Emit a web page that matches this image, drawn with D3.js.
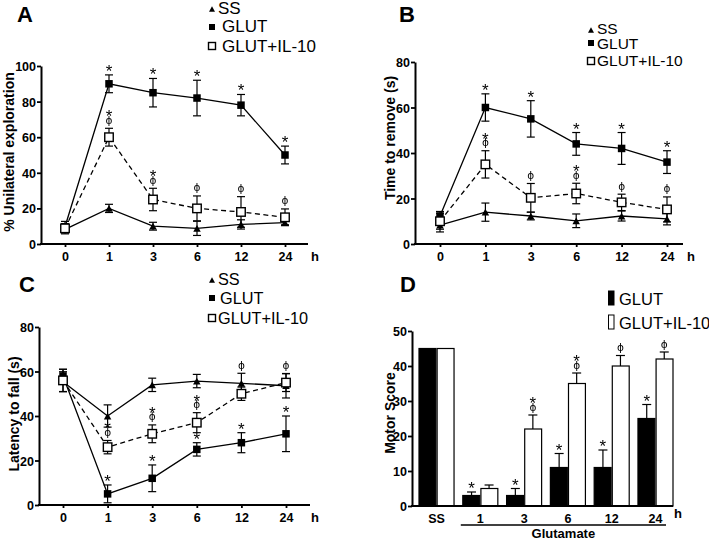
<!DOCTYPE html>
<html><head><meta charset="utf-8">
<script src="https://cdnjs.cloudflare.com/ajax/libs/d3/7.8.5/d3.min.js"></script>
<style>body{margin:0;background:#fff}svg{display:block}</style>
</head><body>
<script>
// ---------- DATA ----------
const hours = ["0", "1", "3", "6", "12", "24"];
const seriesNames = ["SS", "GLUT", "GLUT+IL-10"];

// Panel A: % Unilateral exploration
const aTicks = [0, 20, 40, 60, 80, 100];
const aSS = [8.2, 20, 10, 8.8, 11, 12];
const aSSerr = [2.5, 2.3, 2.2, 4, 2.6, 1.2];
const aGLUT = [9.7, 90, 85, 82, 78, 50];
const aGLUTerr = [3, 5, 8, 10, 6, 5];
const aIL = [8.8, 60, 25, 20, 18, 15];
const aILerr = [2.5, 5, 6.3, 7, 8.6, 4.7];
const aGLUTsig = ["", "*", "*", "*", "*", "*"];
const aILsig = ["", "*ϕ", "*ϕ", "ϕ", "ϕ", "ϕ"];
const aILsigOver = ["IL", "IL", "IL", "IL", "IL", "IL"];

// Panel B: Time to remove (s)
const bTicks = [0, 20, 40, 60, 80];
const bSS = [8.3, 14, 12.3, 10.2, 12.3, 11];
const bSSerr = [3, 4, 1.7, 3, 2.2, 2.6];
const bGLUT = [12.3, 60, 55, 44, 42, 36];
const bGLUTerr = [2, 6, 8, 5, 7, 5];
const bIL = [10, 35, 20.3, 22.2, 18.3, 15.2];
const bILerr = [3.5, 6, 6.3, 4.5, 3.6, 5.5];
const bGLUTsig = ["", "*", "*", "*", "*", "*"];
const bILsig = ["", "*ϕ", "ϕ", "*ϕ", "ϕ", "ϕ"];
const bILsigOver = ["IL", "IL", "IL", "IL", "IL", "IL"];

// Panel C: Latency to fall (s)
const cTicks = [0, 20, 40, 60, 80];
const cSS = [55.4, 40, 54, 55.7, 54.7, 53.6];
const cSSerr = [4.5, 5, 3, 3, 4.5, 5.5];
const cGLUT = [58, 5, 12, 25, 28, 32];
const cGLUTerr = [3, 4, 6, 3, 4.5, 8];
const cIL = [56, 26, 32, 37, 50, 55];
const cILerr = [5, 3, 4, 4.5, 3, 4];
const cGLUTsig = ["", "*", "*", "*", "*", "*"];
const cILsig = ["", "*ϕ", "*ϕ", "*ϕ", "ϕ", "ϕ"];
const cILsigOver = ["IL", "IL", "IL", "IL", "SS", "SS"];

// Panel D: Motor Score
const dGroups = ["SS", "1", "3", "6", "12", "24"];
const dTicks = [0, 10, 20, 30, 40, 50];
const dGLUT = [45, 3, 3, 11, 11, 25];
const dGLUTerr = [0, 1, 2, 4, 5, 4];
const dIL = [45, 5, 22, 35, 40, 42];
const dILerr = [0, 1, 4, 3, 3, 2];
const dGLUTsig = ["", "*", "*", "*", "*", "*"];
const dILsig = ["", "", "*ϕ", "*ϕ", "ϕ", "ϕ"];

// ---------- DRAWING ----------
const FONT = "Arial, 'Liberation Sans', Helvetica, sans-serif";
const svg = d3.select("body").append("svg").attr("width", 709).attr("height", 539)
  .style("font-family", FONT);
svg.append("defs").append("filter").attr("id", "gray")
  .attr("x", "-50%").attr("y", "-50%").attr("width", "200%").attr("height", "200%")
  .append("feColorMatrix").attr("type", "saturate").attr("values", 0);

function styleAxis(g, size) {
  g.selectAll("text").style("font-family", FONT).style("font-weight", "bold")
    .style("font-size", size + "px").attr("fill", "#000");
  g.selectAll("line").attr("stroke", "#000").attr("stroke-width", 1.8);
  g.selectAll("path.domain").attr("stroke", "#000").attr("stroke-width", 2);
}

function drawSig(g, xc, yTop, txt) {
  // one text element; characters stacked, the last one nearest the error bar top
  const chars = Array.from(txt);
  const t = g.append("text").attr("text-anchor", "middle").attr("fill", "#000")
    .attr("filter", "url(#gray)");
  let c = yTop - 8;
  const parts = [];
  for (let i = chars.length - 1; i >= 0; i--) {
    const ch = chars[i];
    if (ch === "*") { parts.unshift({ ch, y: c + 10, star: true }); c -= 9; }
    else { parts.unshift({ ch, y: c + 3.5, star: false }); c -= 8; }
  }
  parts.forEach(p => {
    const ts = t.append("tspan").attr("x", xc).attr("y", p.y).text(p.ch);
    if (p.star) ts.style("font-size", "17px").style("font-family", FONT);
    else ts.style("font-size", "10.5px").style("font-family", "'DejaVu Sans', serif");
  });
}

function marker(g, type, cx, cy, s) {
  if (type === "tri") {
    const h = s * 0.9;
    g.append("path").attr("d", `M${cx - s / 2},${cy + h / 2}L${cx + s / 2},${cy + h / 2}L${cx},${cy - h / 2}Z`)
      .attr("fill", "#000");
  } else if (type === "sq") {
    g.append("rect").attr("x", cx - s / 2).attr("y", cy - s / 2).attr("width", s).attr("height", s)
      .attr("fill", "#000");
  } else {
    g.append("rect").attr("x", cx - s / 2).attr("y", cy - s / 2).attr("width", s).attr("height", s)
      .attr("fill", "#fff").attr("stroke", "#000").attr("stroke-width", 1.4);
  }
}

function linePanel(cfg) {
  const g = svg.append("g");
  const x = d3.scalePoint().domain(hours).range(cfg.xr);
  const y = d3.scaleLinear().domain([0, cfg.ymax]).range(cfg.yr);

  const ya = g.append("g").attr("transform", `translate(${cfg.axisX},0)`)
    .call(d3.axisLeft(y).tickValues(cfg.ticks).tickSize(4).tickSizeOuter(0).tickPadding(1));
  styleAxis(ya, 12.5);
  ya.selectAll("text").attr("dy", "0.36em");
  const xa = g.append("g").attr("transform", `translate(0,${cfg.yr[0]})`)
    .call(d3.axisBottom(x).tickSize(3).tickPadding(0));
  xa.select("path.domain").remove();
  styleAxis(xa, 12.5);
  xa.selectAll("text").attr("y", cfg.labelY - cfg.yr[0]).attr("dy", 0);
  g.append("line").attr("x1", cfg.axisX - 1).attr("x2", cfg.xEnd)
    .attr("y1", cfg.yr[0]).attr("y2", cfg.yr[0]).attr("stroke", "#000").attr("stroke-width", 2.2);
  g.append("text").attr("x", cfg.hX).attr("y", cfg.labelY).attr("text-anchor", "middle")
    .style("font-weight", "bold").style("font-size", "13px").text("h");

  g.append("text").attr("transform", `translate(${cfg.ylabX},${cfg.ylabY}) rotate(-90)`)
    .attr("text-anchor", "middle").style("font-weight", "bold").style("font-size", "14px")
    .text(cfg.ylabel);
  g.append("text").attr("x", cfg.letterX).attr("y", cfg.letterY)
    .style("font-weight", "bold").style("font-size", "22px").text(cfg.letter);

  const ser = [
    { key: "SS", v: cfg.ss, e: cfg.sse, m: "tri", dash: null, ms: 7.5 },
    { key: "GLUT", v: cfg.gl, e: cfg.gle, m: "sq", dash: null, ms: 7.5 },
    { key: "IL", v: cfg.il, e: cfg.ile, m: "open", dash: "5,3.5", ms: 8.5 }
  ];
  const line = d3.line().x((d, i) => x(hours[i])).y(d => y(d));
  ser.forEach(s => {
    s.v.forEach((v, i) => {
      const xc = x(hours[i]);
      const t = y(v + s.e[i]), b = y(Math.max(0, v - s.e[i]));
      g.append("line").attr("x1", xc).attr("x2", xc).attr("y1", t).attr("y2", b)
        .attr("stroke", "#000").attr("stroke-width", 1.2);
      [t, b].forEach(yy => g.append("line").attr("x1", xc - 4).attr("x2", xc + 4)
        .attr("y1", yy).attr("y2", yy).attr("stroke", "#000").attr("stroke-width", 1.2));
    });
  });
  ser.forEach(s => {
    g.append("path").datum(s.v).attr("d", line).attr("fill", "none")
      .attr("stroke", "#000").attr("stroke-width", 1.3)
      .attr("stroke-dasharray", s.dash);
  });
  ser.forEach(s => {
    s.v.forEach((v, i) => marker(g, s.m, x(hours[i]), y(v), s.ms));
  });
  const byKey = { SS: [cfg.ss, cfg.sse], GLUT: [cfg.gl, cfg.gle], IL: [cfg.il, cfg.ile] };
  hours.forEach((h, i) => {
    if (cfg.glSig[i]) drawSig(g, x(h), y(cfg.gl[i] + cfg.gle[i]), cfg.glSig[i]);
    if (cfg.ilSig[i]) {
      const [vv, ee] = byKey[cfg.ilOver[i]];
      drawSig(g, x(h), y(vv[i] + ee[i]), cfg.ilSig[i]);
    }
  });

  const L = cfg.legend;
  const types = ["tri", "sq", "open"];
  seriesNames.forEach((n, i) => {
    marker(g, types[i], L.mx, L.my[i], i === 2 ? 7 : 6);
    g.append("text").attr("x", L.tx[i]).attr("y", L.ty[i])
      .style("font-size", L.fs + "px").text(n);
  });
}

linePanel({
  letter: "A", letterX: 17, letterY: 22,
  axisX: 41, xEnd: 308, xr: [65, 285], yr: [244, 66], ymax: 100, ticks: aTicks,
  labelY: 261, hX: 315,
  ylabel: "% Unilateral exploration", ylabX: 14, ylabY: 152,
  ss: aSS, sse: aSSerr, gl: aGLUT, gle: aGLUTerr, il: aIL, ile: aILerr,
  glSig: aGLUTsig, ilSig: aILsig, ilOver: aILsigOver,
  legend: { mx: 212, my: [9, 27, 46], tx: [218, 222, 222], ty: [14, 32, 52], fs: 17 }
});
linePanel({
  letter: "B", letterX: 399, letterY: 22,
  axisX: 415, xEnd: 683, xr: [440, 667], yr: [244, 62], ymax: 80, ticks: bTicks,
  labelY: 261, hX: 691,
  ylabel: "Time to remove (s)", ylabX: 395, ylabY: 138,
  ss: bSS, sse: bSSerr, gl: bGLUT, gle: bGLUTerr, il: bIL, ile: bILerr,
  glSig: bGLUTsig, ilSig: bILsig, ilOver: bILsigOver,
  legend: { mx: 591, my: [30, 43, 61], tx: [597, 597, 597], ty: [34, 49, 66], fs: 15.5 }
});
linePanel({
  letter: "C", letterX: 19, letterY: 292,
  axisX: 39, xEnd: 310, xr: [63, 286], yr: [505, 327], ymax: 80, ticks: cTicks,
  labelY: 522, hX: 315,
  ylabel: "Latency to fall (s)", ylabX: 19, ylabY: 414,
  ss: cSS, sse: cSSerr, gl: cGLUT, gle: cGLUTerr, il: cIL, ile: cILerr,
  glSig: cGLUTsig, ilSig: cILsig, ilOver: cILsigOver,
  legend: { mx: 212, my: [280, 298, 318], tx: [218, 220, 218], ty: [285, 304, 324], fs: 16.3 }
});

// ---------- Panel D (bars) ----------
(function () {
  const g = svg.append("g");
  const x = d3.scaleBand().domain(dGroups).range([419, 673]).paddingInner(0.2).paddingOuter(0);
  const y = d3.scaleLinear().domain([0, 50]).range([506, 331]);
  const bw = x.bandwidth() / 2;
  const axisX = 412;

  const ya = g.append("g").attr("transform", `translate(${axisX},0)`)
    .call(d3.axisLeft(y).tickValues(dTicks).tickSize(4).tickSizeOuter(0).tickPadding(1));
  styleAxis(ya, 12.5);
  ya.selectAll("text").attr("dy", "0.36em");

  const bars = [
    { v: dGLUT, e: dGLUTerr, fill: "#000", sig: dGLUTsig, off: 0 },
    { v: dIL, e: dILerr, fill: "#fff", sig: dILsig, off: 1 }
  ];
  bars.forEach(b => {
    g.selectAll(null).data(dGroups).enter().append("rect")
      .attr("x", d => x(d) + b.off * bw + (b.off ? 0.6 : 0))
      .attr("y", (d, i) => y(b.v[i]))
      .attr("width", bw - 0.6)
      .attr("height", (d, i) => y(0) - y(b.v[i]))
      .attr("fill", b.fill).attr("stroke", "#000").attr("stroke-width", 1.2);
    dGroups.forEach((d, i) => {
      const xc = x(d) + b.off * bw + bw / 2;
      if (b.e[i] > 0) {
        const t = y(b.v[i] + b.e[i]);
        g.append("line").attr("x1", xc).attr("x2", xc).attr("y1", t).attr("y2", y(b.v[i]))
          .attr("stroke", "#000").attr("stroke-width", 1.2);
        g.append("line").attr("x1", xc - 4.5).attr("x2", xc + 4.5).attr("y1", t).attr("y2", t)
          .attr("stroke", "#000").attr("stroke-width", 1.2);
      }
      if (b.sig[i]) drawSig(g, xc, y(b.v[i] + b.e[i]), b.sig[i]);
    });
  });

  g.append("line").attr("x1", axisX - 1).attr("x2", 673).attr("y1", y(0)).attr("y2", y(0))
    .attr("stroke", "#000").attr("stroke-width", 2.2);

  const xa = g.append("g").attr("transform", `translate(0,${y(0)})`)
    .call(d3.axisBottom(x).tickSize(0).tickPadding(0));
  xa.select("path.domain").remove();
  styleAxis(xa, 12.5);
  xa.selectAll("text").attr("y", 523 - 506).attr("dy", 0);

  g.append("text").attr("x", 678).attr("y", 518).attr("text-anchor", "middle")
    .style("font-weight", "bold").style("font-size", "13px").text("h");

  const ux1 = x("1") - 2, ux2 = x("24") + x.bandwidth() - 7;
  g.append("line").attr("x1", ux1).attr("x2", ux2).attr("y1", 525).attr("y2", 525)
    .attr("stroke", "#000").attr("stroke-width", 1.4);
  g.append("text").attr("x", (ux1 + ux2) / 2).attr("y", 537.5).attr("text-anchor", "middle")
    .style("font-weight", "bold").style("font-size", "13px").text("Glutamate");

  g.append("text").attr("transform", `translate(395,413) rotate(-90)`)
    .attr("text-anchor", "middle").style("font-weight", "bold").style("font-size", "14px")
    .text("Motor Score");
  g.append("text").attr("x", 400).attr("y", 292)
    .style("font-weight", "bold").style("font-size", "22px").text("D");

  const lg = [["GLUT", "#000", 291, 305], ["GLUT+IL-10", "#fff", 315, 329]];
  lg.forEach(([t, f, y0, y1]) => {
    g.append("rect").attr("x", 608.5).attr("y", y0).attr("width", 5.5).attr("height", y1 - y0)
      .attr("fill", f).attr("stroke", "#000").attr("stroke-width", 1);
    g.append("text").attr("x", 619).attr("y", y1).style("font-size", "16.5px").text(t);
  });
})();
</script>
</body></html>
